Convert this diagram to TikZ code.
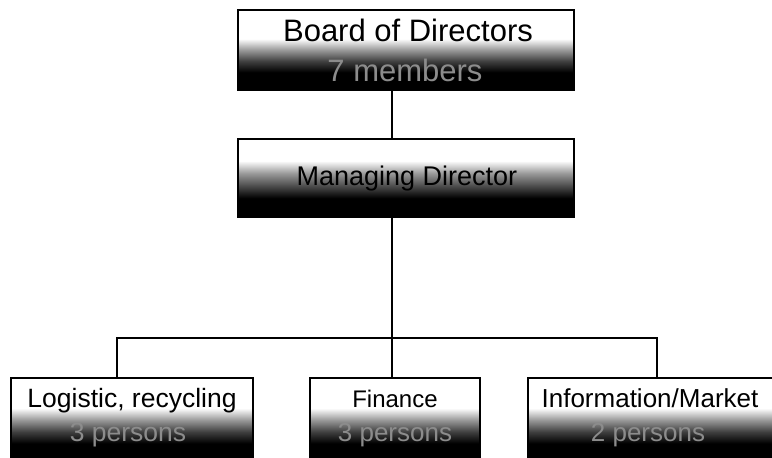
\documentclass[tikz,border=0pt]{standalone}
\usepackage{fontspec}
\setmainfont{Liberation Sans}
\pgfdeclareverticalshading{boxshade}{100bp}{color(0bp)=(black); color(36bp)=(black); color(43bp)=(black!75); color(50bp)=(black!40); color(57bp)=(white); color(100bp)=(white)}
\pgfdeclareverticalshading{mgrshade}{100bp}{color(0bp)=(black); color(37bp)=(black); color(45bp)=(black!70); color(53bp)=(black!40); color(61bp)=(white); color(100bp)=(white)}
\begin{document}
\begin{tikzpicture}[x=1pt,y=1pt,
  orgbox/.style={draw=black, line width=1.5pt, shade, shading=boxshade, inner sep=0pt},
  conn/.style={draw=black, line width=1.5pt},
  txt/.style={anchor=base, inner sep=0pt, text=black},
  sub/.style={anchor=base, inner sep=0pt, text=black!45}]
\useasboundingbox (0,0) rectangle (772,458);
% boxes
\node[orgbox, minimum width=336pt, minimum height=80pt] (board) at (406,408) {};
\node[orgbox, shading=mgrshade, minimum width=336pt, minimum height=78pt] (mgr) at (406,280) {};
\node[orgbox, minimum width=242pt, minimum height=84pt] (log) at (132,38) {};
\node[orgbox, minimum width=170pt, minimum height=84pt] (fin) at (395,38) {};
\node[orgbox, minimum width=246pt, minimum height=84pt] (info) at (651,38) {};
% texts
\node[txt, font=\fontsize{31}{36}\selectfont] (boardt) at (408,416) {Board of Directors};
\node[sub, font=\fontsize{31}{36}\selectfont] (boards) at (405,376) {7 members};
\node[txt, font=\fontsize{27}{32}\selectfont] (mgrt) at (407,272) {Managing Director};
\node[txt, font=\fontsize{26.5}{30}\selectfont] (logt) at (132,50) {Logistic, recycling};
\node[sub, font=\fontsize{26.5}{30}\selectfont] (logs) at (128,16) {3 persons};
\node[txt, font=\fontsize{24}{28}\selectfont] (fint) at (395,50) {Finance};
\node[sub, font=\fontsize{26}{30}\selectfont] (fins) at (395,16) {3 persons};
\node[txt, font=\fontsize{26}{30}\selectfont] (infot) at (650,50) {Information/Market};
\node[sub, font=\fontsize{26}{30}\selectfont] (infos) at (648,16) {2 persons};
% connectors
\coordinate (j) at (392,120);
\coordinate (jl) at (117,120);
\coordinate (jr) at (657,120);
\draw[conn] (board.south -| j) -- (mgr.north -| j);
\draw[conn] (mgr.south -| j) -- (j);
\draw[conn] (log.north -| jl) -- (jl) -- (jr) -- (info.north -| jr);
\draw[conn] (j) -- (fin.north -| j);
\end{tikzpicture}
\end{document}
